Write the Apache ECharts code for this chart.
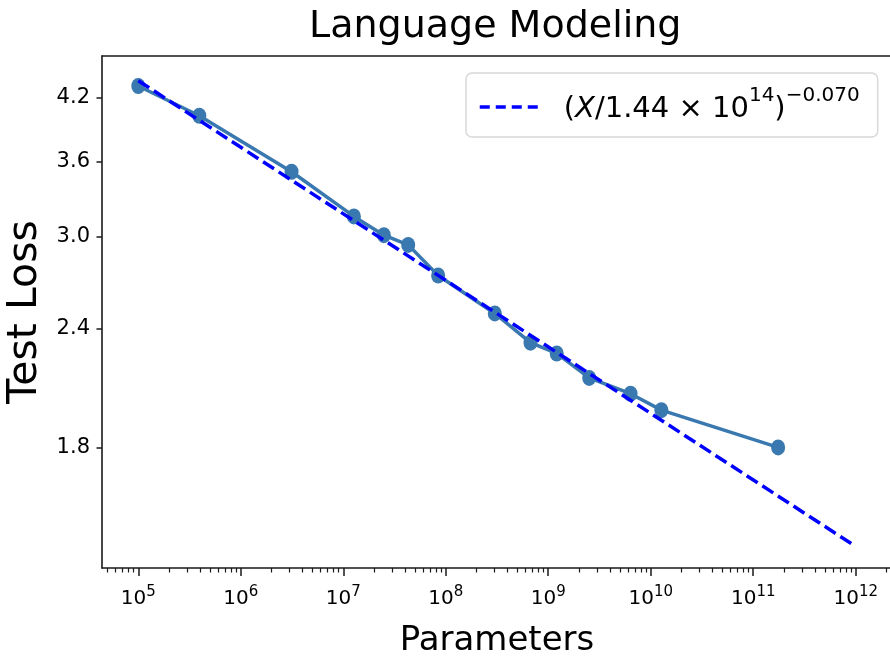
<!DOCTYPE html>
<html>
<head>
<meta charset="utf-8">
<script src="https://cdn.jsdelivr.net/npm/echarts@6/dist/echarts.min.js"></script>
<style>
  html, body { margin: 0; padding: 0; background: #ffffff; }
  #chart { width: 890px; height: 657px; }
</style>
</head>
<body>
<div id="chart"></div>
<script>
// Model size (parameters) and the test loss reached at that size
const params = [1e5, 3.94e5, 3.13e6, 1.27e7, 2.49e7, 4.30e7, 8.43e7, 3.01e8, 6.71e8, 1.21e9, 2.51e9, 6.35e9, 1.27e10, 1.75e11];
const testLoss = [4.32, 4.02, 3.51, 3.15, 3.01, 2.94, 2.73, 2.49, 2.32, 2.26, 2.13, 2.05, 1.97, 1.80];

// Power-law fit (X / 1.44e14)^-0.070, evaluated at both ends of its range
const fitParams = [1e5, 1e12];
const fitLoss = [4.376, 1.416];

// Axis ticks
const xTickExponents = [5, 6, 7, 8, 9, 10, 11, 12];
const yTickLabels = [1.8, 2.4, 3.0, 3.6, 4.2];
const xLimits = [Math.pow(10, 4.646), Math.pow(10, 12.354)];
const yLimits = [1.344, 4.646];

const lg = Math.log10;
const FONT = 'DejaVu Sans';
const LINE_BLUE = '#3a78b0';
const FIT_BLUE = '#0000ff';
const SPINE = '#1a1a1a';

const xMin = lg(xLimits[0]), xMax = lg(xLimits[1]);
const yMin = lg(yLimits[0]), yMax = lg(yLimits[1]);

// minor ticks at 2..9 x 10^n on the log axis
const xMinorTicks = [];
for (let e = 4; e <= 12; e++) {
  for (let k = 2; k <= 9; k++) {
    const v = e + lg(k);
    if (v > xMin && v < xMax) xMinorTicks.push(v);
  }
}

const chart = echarts.init(document.getElementById('chart'), null, { renderer: 'canvas' });

const option = {
  animation: false,
  backgroundColor: '#ffffff',
  title: {
    text: 'Language Modeling',
    left: 309,
    top: 8,
    padding: 0,
    textStyle: { fontFamily: FONT, fontSize: 38, fontWeight: 'normal', color: '#000' }
  },
  legend: {
    data: ['fit'],
    left: 466,
    top: 73,
    padding: [13, 18, 13, 12],
    itemWidth: 60,
    itemHeight: 20,
    backgroundColor: '#ffffff',
    borderColor: '#d8d8d8',
    borderWidth: 1.5,
    borderRadius: 6,
    selectedMode: false,
    itemStyle: { opacity: 0 },
    lineStyle: { color: FIT_BLUE, width: 3.5, type: [10, 6] },
    formatter: function () {
      return '{gap|}{t|(}{i|X}{t|/1.44 × 10}{s|14}{t|)}{s|−0.070}';
    },
    textStyle: {
      fontFamily: FONT,
      fontSize: 29,
      color: '#000',
      rich: {
        gap: { width: 19 },
        t: { fontFamily: FONT, fontSize: 29, lineHeight: 34, verticalAlign: 'bottom', color: '#000' },
        i: { fontFamily: FONT, fontSize: 29, lineHeight: 34, fontStyle: 'italic', verticalAlign: 'bottom', color: '#000' },
        s: { fontFamily: FONT, fontSize: 20, lineHeight: 22, padding: [0, 0, 18, 0], verticalAlign: 'bottom', color: '#000' }
      }
    }
  },
  grid: { left: 102, top: 56, width: 790, height: 512, containLabel: false, outerBoundsMode: 'none' },
  xAxis: [
    {
      type: 'value',
      position: 'bottom',
      min: xMin,
      max: xMax,
      name: 'Parameters',
      nameLocation: 'middle',
      nameGap: 56,
      nameTextStyle: { fontFamily: FONT, fontSize: 34, color: '#000' },
      axisLine: { show: true, onZero: false, lineStyle: { color: SPINE, width: 1.6 } },
      axisTick: { show: true, customValues: xTickExponents, length: 8, lineStyle: { color: SPINE, width: 1.5 } },
      axisLabel: {
        show: true,
        customValues: xTickExponents,
        margin: 17,
        formatter: function (v) { return '{b|10}{s|' + Math.round(v) + '}'; },
        rich: {
          b: { fontFamily: FONT, fontSize: 20, lineHeight: 24, verticalAlign: 'bottom', color: '#000' },
          s: { fontFamily: FONT, fontSize: 15, lineHeight: 16, padding: [0, 0, 9, 0], verticalAlign: 'bottom', color: '#000' }
        }
      },
      splitLine: { show: false }
    },
    {
      type: 'value',
      position: 'bottom',
      min: xMin,
      max: xMax,
      axisLine: { show: false, onZero: false },
      axisTick: { show: true, customValues: xMinorTicks, length: 4.5, lineStyle: { color: SPINE, width: 1.2 } },
      axisLabel: { show: false },
      splitLine: { show: false }
    },
    {
      type: 'value',
      position: 'top',
      min: xMin,
      max: xMax,
      axisLine: { show: true, onZero: false, lineStyle: { color: SPINE, width: 1.6 } },
      axisTick: { show: false },
      axisLabel: { show: false },
      splitLine: { show: false }
    }
  ],
  yAxis: [
    {
      type: 'value',
      position: 'left',
      min: yMin,
      max: yMax,
      name: 'Test Loss',
      nameLocation: 'middle',
      nameGap: 42,
      nameTextStyle: { fontFamily: FONT, fontSize: 41, color: '#000' },
      axisLine: { show: true, onZero: false, lineStyle: { color: SPINE, width: 1.6 } },
      axisTick: { show: true, customValues: yTickLabels.map(lg), length: 5.5, lineStyle: { color: SPINE, width: 1.5 } },
      axisLabel: {
        show: true,
        customValues: yTickLabels.map(lg),
        margin: 12,
        fontFamily: FONT,
        fontSize: 21,
        color: '#000',
        formatter: function (v) { return Math.pow(10, v).toFixed(1); }
      },
      splitLine: { show: false }
    }
  ],
  series: [
    {
      name: 'Test Loss',
      type: 'line',
      xAxisIndex: 0,
      yAxisIndex: 0,
      data: params.map(function (p, i) { return [lg(p), lg(testLoss[i])]; }),
      symbol: 'circle',
      symbolSize: [14, 16],
      showSymbol: true,
      lineStyle: { color: LINE_BLUE, width: 3.5 },
      itemStyle: { color: LINE_BLUE },
      z: 2
    },
    {
      name: 'fit',
      type: 'line',
      xAxisIndex: 0,
      yAxisIndex: 0,
      data: fitParams.map(function (p, i) { return [lg(p), lg(fitLoss[i])]; }),
      symbol: 'none',
      lineStyle: { color: FIT_BLUE, width: 3.5, type: [13, 5.6] },
      itemStyle: { color: FIT_BLUE },
      z: 3
    }
  ]
};

chart.setOption(option);
</script>
</body>
</html>
